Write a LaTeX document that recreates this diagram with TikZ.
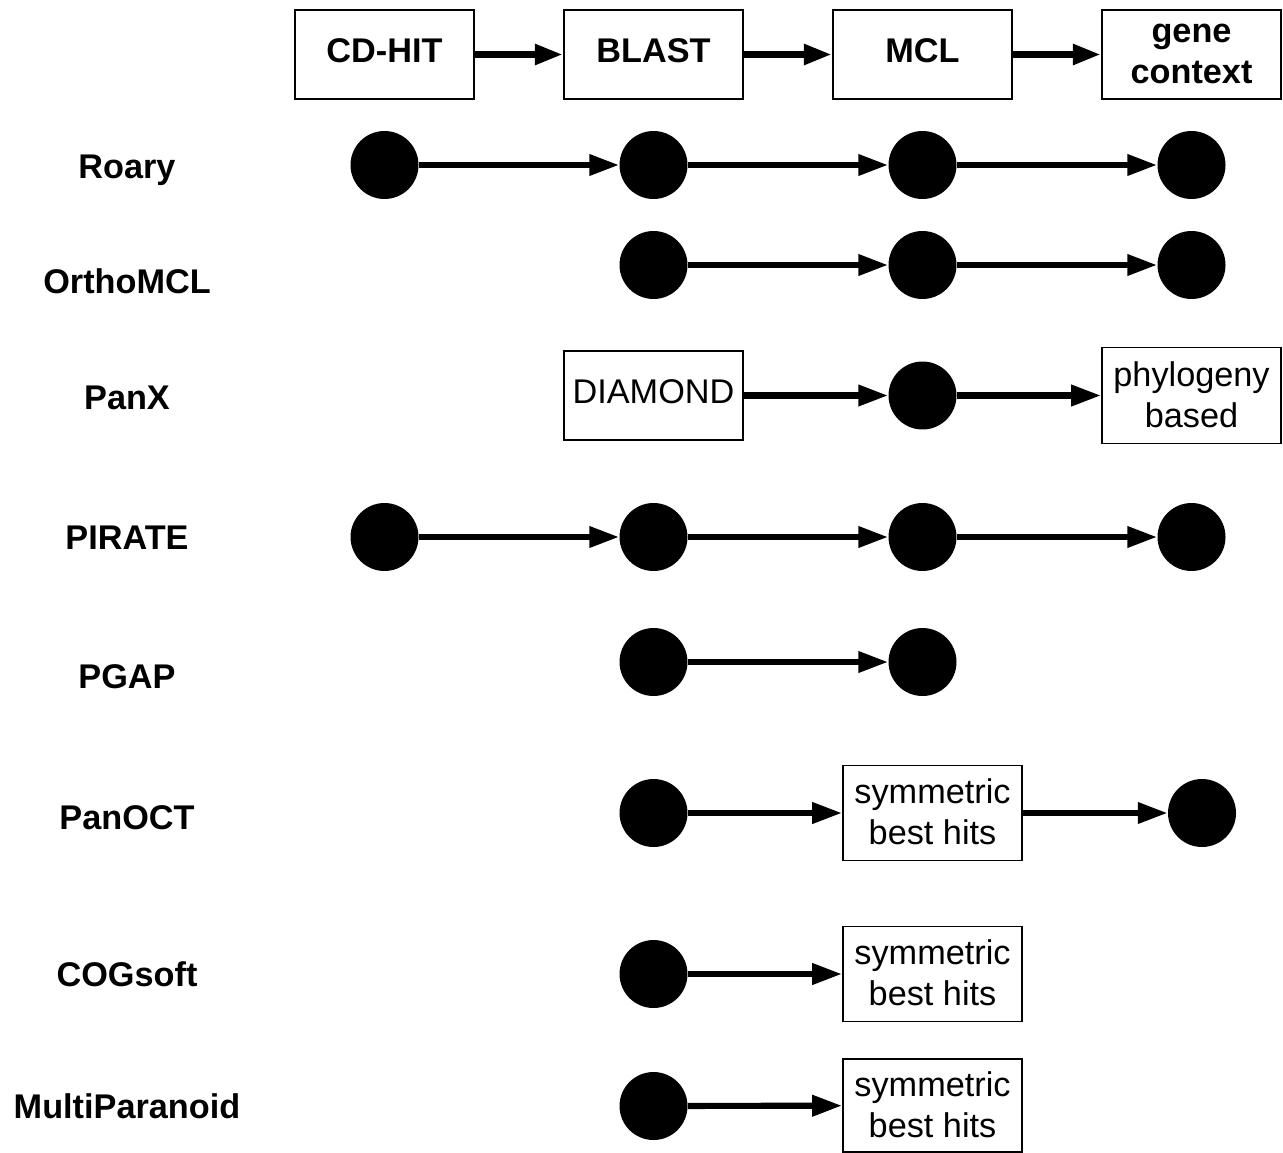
\documentclass[tikz,border=0pt]{standalone}
\usepackage{fontspec}
\setmainfont{Liberation Sans}
\usetikzlibrary{arrows.meta}

\begin{document}
\begin{tikzpicture}[x=0.02cm, y=-0.02cm,
    tool/.style={draw, line width=1.1pt, minimum width=3.58cm, minimum height=1.78cm,
      align=center, inner sep=2pt, text depth=0.42em, font=\fontsize{19.5}{23.4}\selectfont},
    stage/.style={tool, font=\fontsize{19.5}{23.4}\selectfont\bfseries},
    twoline/.style={text depth=0.12em},
    dot/.style={circle, fill=black, inner sep=0pt, minimum size=1.36cm},
    tag/.style={anchor=base, font=\fontsize{19.5}{23.4}\selectfont\bfseries},
    flow/.style={line width=3.5pt, -{Triangle[length=17pt,width=11.5pt]}},
    mainflow/.style={line width=4.5pt, -{Triangle[length=16pt,width=11pt]}}]
    \useasboundingbox (0,0) rectangle (1283,1152);

    % Etapas
    \node[stage] (cdhit) at (384.5,54.5) {CD-HIT};
    \node[stage] (blast) at (653.5,54.5) {BLAST};
    \node[stage] (mcl) at (922.5,54.5) {MCL};
    \node[stage, twoline] (context) at (1191.5,54.5) {gene\\context};
    \draw[mainflow] (cdhit) -- (blast);
    \draw[mainflow] (blast) -- (mcl);
    \draw[mainflow] (mcl) -- (context);

    % Nombres de las herramientas
    \node[tag] (lroary) at (127,178) {Roary};
    \node[tag] (lortho) at (127,293) {OrthoMCL};
    \node[tag] (lpanx) at (127,409) {PanX};
    \node[tag] (lpirate) at (127,549) {PIRATE};
    \node[tag] (lpgap) at (127,688) {PGAP};
    \node[tag] (lpanoct) at (127,829) {PanOCT};
    \node[tag] (lcog) at (127,986) {COGsoft};
    \node[tag] (lmulti) at (127,1118) {MultiParanoid};

    % Roary
    \node[dot] (roary1) at (384.5,165) {};
    \node[dot] (roary2) at (653.5,165) {};
    \node[dot] (roary3) at (922.5,165) {};
    \node[dot] (roary4) at (1191.5,165) {};
    \draw[flow] (roary1) -- (roary2);
    \draw[flow] (roary2) -- (roary3);
    \draw[flow] (roary3) -- (roary4);

    % OrthoMCL
    \node[dot] (ortho2) at (653.5,265) {};
    \node[dot] (ortho3) at (922.5,265) {};
    \node[dot] (ortho4) at (1191.5,265) {};
    \draw[flow] (ortho2) -- (ortho3);
    \draw[flow] (ortho3) -- (ortho4);

    % PanX
    \node[tool] (diamond) at (653.5,395.5) {DIAMOND};
    \node[dot] (panx3) at (922.5,395.5) {};
    \node[tool, twoline, minimum height=1.92cm] (phylo) at (1191.5,395.5) {phylogeny\\based};
    \draw[flow] (diamond) -- (panx3);
    \draw[flow] (panx3) -- (phylo);

    % PIRATE
    \node[dot] (pirate1) at (384.5,537) {};
    \node[dot] (pirate2) at (653.5,537) {};
    \node[dot] (pirate3) at (922.5,537) {};
    \node[dot] (pirate4) at (1191.5,537) {};
    \draw[flow] (pirate1) -- (pirate2);
    \draw[flow] (pirate2) -- (pirate3);
    \draw[flow] (pirate3) -- (pirate4);

    % PGAP
    \node[dot] (pgap2) at (653.5,662) {};
    \node[dot] (pgap3) at (922.5,662) {};
    \draw[flow] (pgap2) -- (pgap3);

    % PanOCT
    \node[dot] (panoct2) at (653.5,813) {};
    \node[tool, twoline, minimum height=1.9cm] (sbh1) at (932.5,813) {symmetric\\best hits};
    \node[dot] (panoct4) at (1202,813) {};
    \draw[flow] (panoct2) -- (sbh1);
    \draw[flow] (sbh1) -- (panoct4);

    % COGsoft
    \node[dot] (cog2) at (653.5,974) {};
    \node[tool, twoline, minimum height=1.9cm] (sbh2) at (932.5,974) {symmetric\\best hits};
    \draw[flow] (cog2) -- (sbh2);

    % MultiParanoid
    \node[dot] (multi2) at (653.5,1106) {};
    \node[tool, twoline, minimum height=1.86cm] (sbh3) at (932.5,1105.5) {symmetric\\best hits};
    \draw[flow] (multi2) -- (sbh3);
\end{tikzpicture}
\end{document}
